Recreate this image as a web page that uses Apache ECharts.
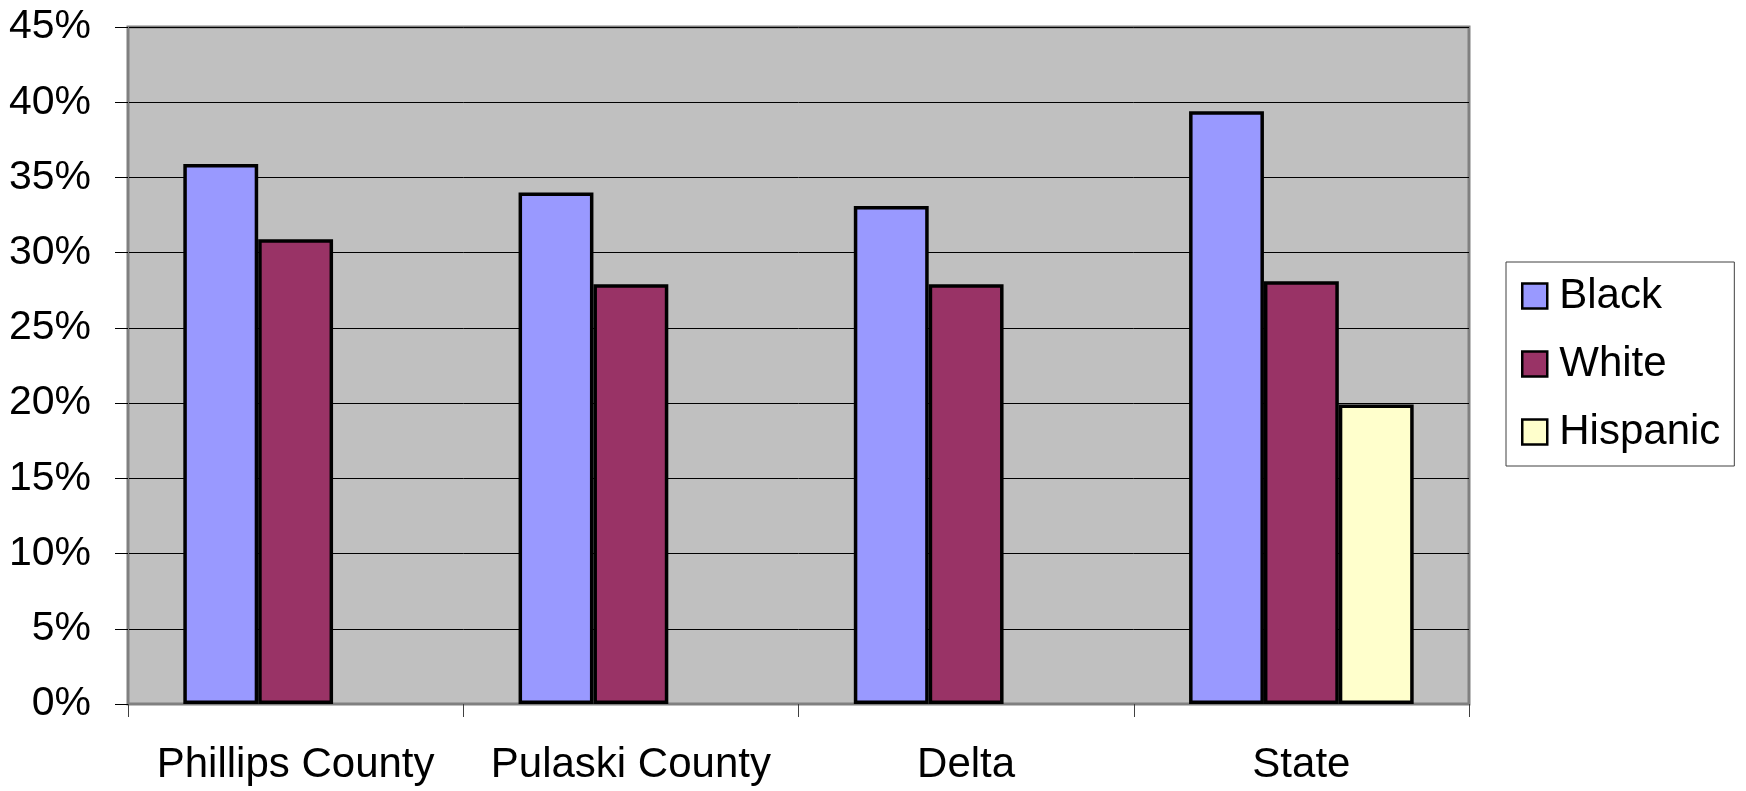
<!DOCTYPE html>
<html>
<head>
<meta charset="utf-8">
<script src="https://cdn.jsdelivr.net/npm/echarts@6/dist/echarts.min.js"></script>
<style>
  html, body { margin: 0; padding: 0; background: #ffffff; }
  #chart { width: 1746px; height: 791px; }
</style>
</head>
<body>
<div id="chart"></div>
<script>
// Share of population by group, per area (percent)
const categories = ['Phillips County', 'Pulaski County', 'Delta', 'State'];
const seriesNames = ['Black', 'White', 'Hispanic'];
const blackValues = [35.9, 34.0, 33.1, 39.4];
const whiteValues = [30.9, 27.9, 27.9, 28.1];
const hispanicValues = [null, null, null, 19.9];
const yTicks = { min: 0, max: 45, step: 5 };

const FONT = '"Liberation Sans", Arial, sans-serif';
const colors = ['#9999FF', '#993366', '#FFFFCC'];
const valueSets = [blackValues, whiteValues, hispanicValues];

const chart = echarts.init(document.getElementById('chart'), null, { renderer: 'canvas' });

chart.setOption({
  animation: false,
  backgroundColor: '#ffffff',
  grid: {
    left: 128, right: 277, top: 27, bottom: 87,
    show: true,
    backgroundColor: '#C0C0C0',
    borderColor: '#808080',
    borderWidth: 3
  },
  legend: {
    orient: 'vertical',
    left: 1506, top: 262,
    padding: [12, 14, 12, 15],
    backgroundColor: '#ffffff',
    borderColor: '#404040',
    borderWidth: 1,
    borderRadius: 0,
    itemWidth: 25, itemHeight: 25,
    itemGap: 24,
    icon: 'rect',
    itemStyle: { borderColor: '#000000', borderWidth: 2.5 },
    textStyle: { fontFamily: FONT, fontSize: 42, color: '#000000', lineHeight: 44, padding: [0, 0, 0, 7] },
    data: seriesNames
  },
  xAxis: {
    type: 'category',
    data: categories,
    axisLine: { show: true, lineStyle: { color: '#808080', width: 2 } },
    axisTick: { show: true, interval: 0, length: 13, lineStyle: { color: '#404040', width: 1 } },
    axisLabel: { interval: 0, fontFamily: FONT, fontSize: 42, color: '#000000', margin: 40 },
    splitLine: { show: false }
  },
  yAxis: {
    type: 'value',
    min: yTicks.min, max: yTicks.max, interval: yTicks.step,
    axisLine: { show: true, lineStyle: { color: '#808080', width: 2 } },
    axisTick: { show: true, length: 13, lineStyle: { color: '#000000', width: 1 } },
    axisLabel: { fontFamily: FONT, fontSize: 41, color: '#000000', margin: 37, formatter: '{value}%' },
    splitLine: { show: true, lineStyle: { color: '#000000', width: 1 } }
  },
  series: seriesNames.map((name, i) => ({
    name: name,
    type: 'bar',
    data: valueSets[i],
    barGap: '0%',
    barCategoryGap: '33%',
    itemStyle: { color: colors[i], borderColor: '#000000', borderWidth: 3.5 }
  }))
});
</script>
</body>
</html>
